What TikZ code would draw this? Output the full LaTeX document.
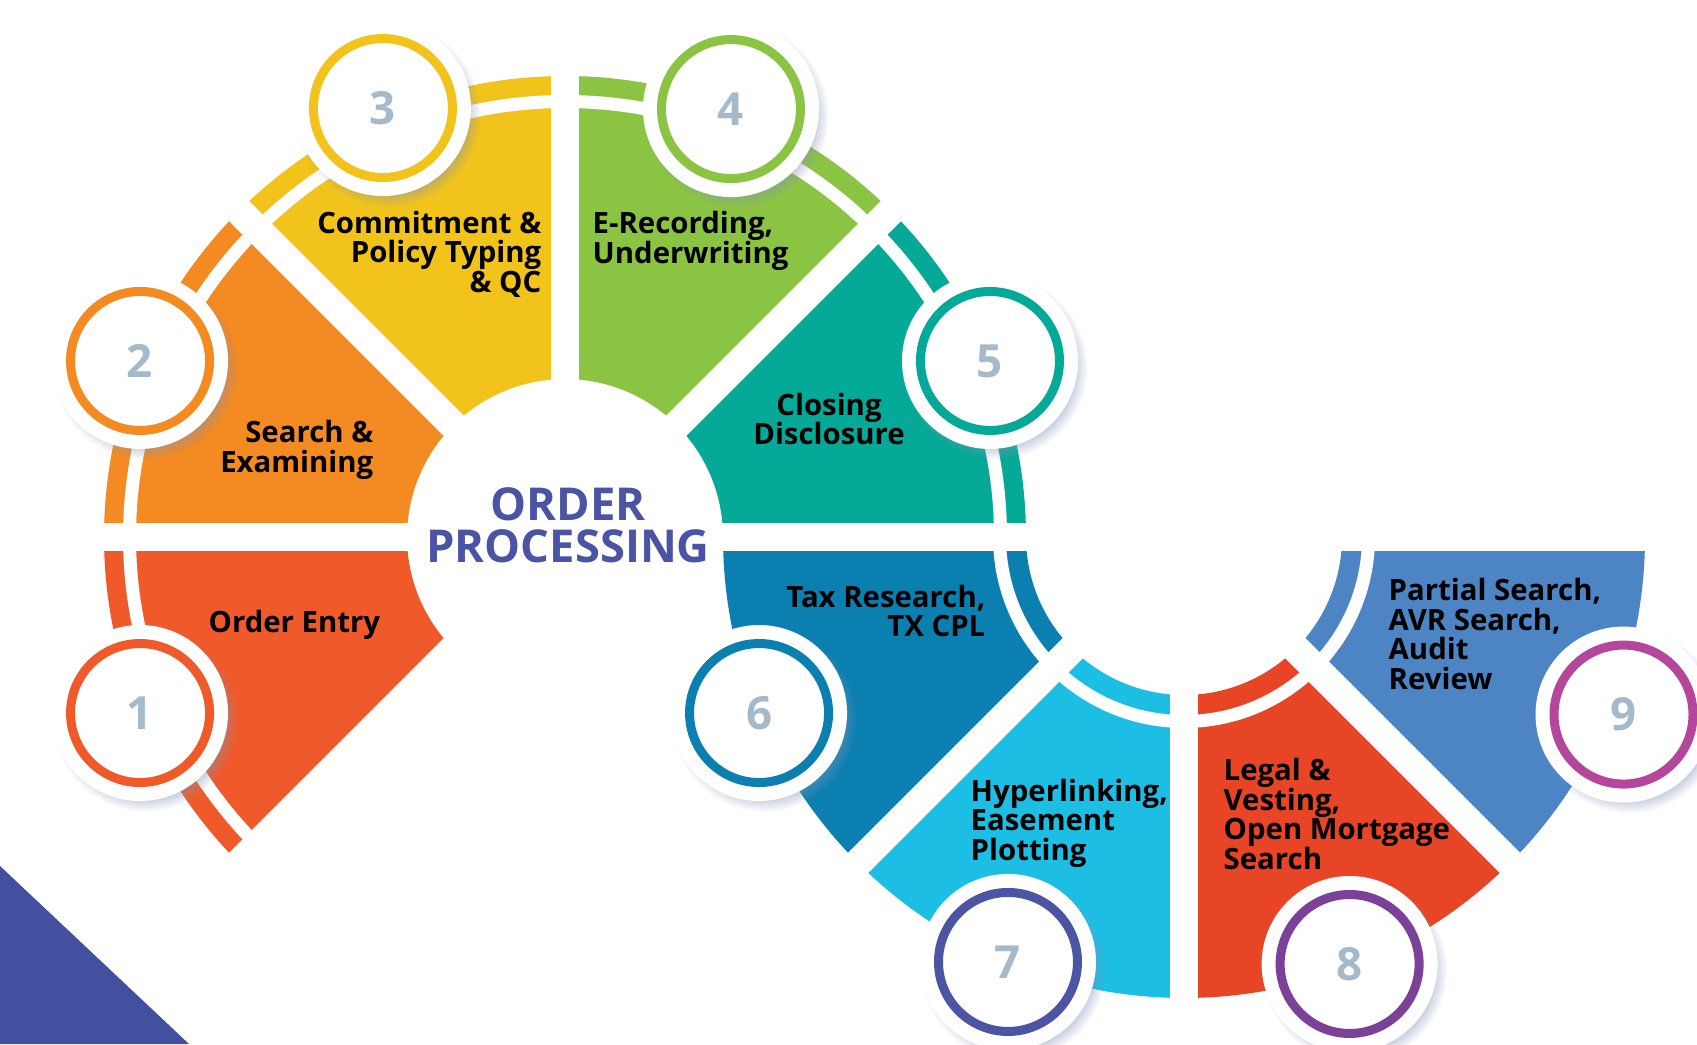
\documentclass[tikz,border=0pt]{standalone}
\usepackage{fontspec}
\setmainfont{Open Sans}
\usetikzlibrary{calc,shadows,fadings}

\definecolor{segA}{HTML}{F05A2B}
\definecolor{segB}{HTML}{F48A22}
\definecolor{segC}{HTML}{F2C31B}
\definecolor{segD}{HTML}{8BC443}
\definecolor{segE}{HTML}{04A997}
\definecolor{segF}{HTML}{0B80B0}
\definecolor{segG}{HTML}{1CBFE3}
\definecolor{segH}{HTML}{E84426}
\definecolor{segI}{HTML}{4C84C4}
\definecolor{ringG}{HTML}{4C55A3}
\definecolor{ringH}{HTML}{7B4199}
\definecolor{ringI}{HTML}{B4479C}
\definecolor{numgray}{HTML}{A4BACB}
\definecolor{headblue}{HTML}{4B54A4}
\definecolor{cornerblue}{HTML}{43509F}
\definecolor{glow}{HTML}{BFD6EE}
\definecolor{shadowblue}{HTML}{8294B4}

\pgfdeclareradialshading{badgeglow}{\pgfpoint{0bp}{0bp}}{color(0bp)=(white); color(29bp)=(white); color(41bp)=(glow!45); color(50bp)=(glow)}

% one coloured piece of a ring: centre, from angle, to angle, colour
\newcommand{\ringpart}[4]{%
  \fill[#4] ($(#1)+(#2:158)$) arc[start angle=#2, end angle=#3, radius=158]
    -- ($(#1)+(#3:461)$) arc[start angle=#3, end angle=#2, radius=461] -- cycle;}

\tikzset{
  gap/.style={white, line width=2.86mm},
  stripe/.style={white, line width=1.3mm},
  lbl/.style={font=\bfseries\fontsize{8.35}{8.4}\selectfont, inner sep=0pt},
  head/.style={font=\bfseries\fontsize{12.9}{11.9}\selectfont, text=headblue, align=center, inner sep=0pt},
  badge/.style={circle, inner sep=0pt, minimum size=17.6mm, fill=white, text=numgray,
    font=\bfseries\fontsize{13}{13}\selectfont,
    circular drop shadow={shadow xshift=0.5mm, shadow yshift=-0.6mm, opacity=0.45, fill=shadowblue, shadow scale=1.05},
    path picture={
      \shade[shading=badgeglow] (path picture bounding box.center) circle[radius=6.5mm];
      \draw[#1, line width=0.9mm] (path picture bounding box.center) circle[radius=6.95mm];
    }}
}

\begin{document}
\begin{tikzpicture}[x=0.1mm, y=0.1mm]
    \useasboundingbox (0, 0) rectangle (1697, 1044);
    \fill[white] (0, 0) rectangle (1697, 1044);
    \fill[cornerblue] (0, 0) -- (0, 178) -- (189, 0) -- cycle;

    \coordinate (C1) at (565, 507);
    \coordinate (C2) at (1184, 507);

    % upper ring
    \ringpart{C1}{180}{225}{segA}
    \ringpart{C1}{135}{180}{segB}
    \ringpart{C1}{90}{135}{segC}
    \ringpart{C1}{45}{90}{segD}
    \ringpart{C1}{0}{45}{segE}
    \draw[stripe] ($(C1)+(0:435.5)$) arc[start angle=0, end angle=225, radius=435.5];

    % lower ring
    \ringpart{C2}{180}{225}{segF}
    \ringpart{C2}{225}{270}{segG}
    \ringpart{C2}{270}{315}{segH}
    \ringpart{C2}{315}{360}{segI}
    \draw[stripe] ($(C2)+(180:184.5)$) arc[start angle=180, end angle=360, radius=184.5];

    % gaps
    \draw[gap] (C1) -- ++(0:480);
    \draw[gap] (C1) -- ++(45:480);
    \draw[gap] (C1) -- ++(90:480);
    \draw[gap] (C1) -- ++(135:480);
    \draw[gap] (C1) -- ++(180:480);
    \draw[gap] (C1) -- ++(225:480);
    \draw[gap] (C2) -- ++(180:480);
    \draw[gap] (C2) -- ++(225:480);
    \draw[gap] (C2) -- ++(270:480);
    \draw[gap] (C2) -- ++(315:480);
    \draw[gap] (C2) -- ++(360:480);

    \node[head] (title) at (568, 519) {ORDER\\PROCESSING};

    \node[lbl, anchor=west] (t1) at (208, 419) {Order Entry};
    \node[lbl, anchor=east, align=right] (t2) at (374, 594) {Search \&\\Examining};
    \node[lbl, anchor=east, align=right] (t3) at (542, 790) {Commitment \&\\Policy Typing\\\& QC};
    \node[lbl, anchor=west, align=left] (t4) at (592, 803) {E-Recording,\\Underwriting};
    \node[lbl, align=center] (t5) at (829, 625) {Closing\\Disclosure};
    \node[lbl, anchor=east, align=right] (t6) at (986, 433) {Tax Research,\\TX CPL};
    \node[lbl, anchor=west, align=left] (t7) at (970, 221) {Hyperlinking,\\Easement\\Plotting};
    \node[lbl, anchor=west, align=left] (t8) at (1223, 230) {Legal \&\\Vesting,\\Open Mortgage\\Search};
    \node[lbl, anchor=west, align=left] (t9) at (1388, 410) {Partial Search,\\AVR Search,\\Audit\\Review};

    \node[badge=segA] (b1) at ($(C1)+(202.5:460)$) {1};
    \node[badge=segB] (b2) at ($(C1)+(157.5:460)$) {2};
    \node[badge=segC] (b3) at ($(C1)+(113:466)$) {3};
    \node[badge=segD] (b4) at ($(C1)+(68.8:459)$) {4};
    \node[badge=segE] (b5) at ($(C1)+(22.5:460)$) {5};
    \node[badge=segF] (b6) at ($(C2)+(202.5:460)$) {6};
    \node[badge=ringG] (b7) at ($(C2)+(247.5:460)$) {7};
    \node[badge=ringH] (b8) at ($(C2)+(291.2:458)$) {8};
    \node[badge=ringI] (b9) at ($(C2)+(338:474)$) {9};
\end{tikzpicture}
\end{document}
